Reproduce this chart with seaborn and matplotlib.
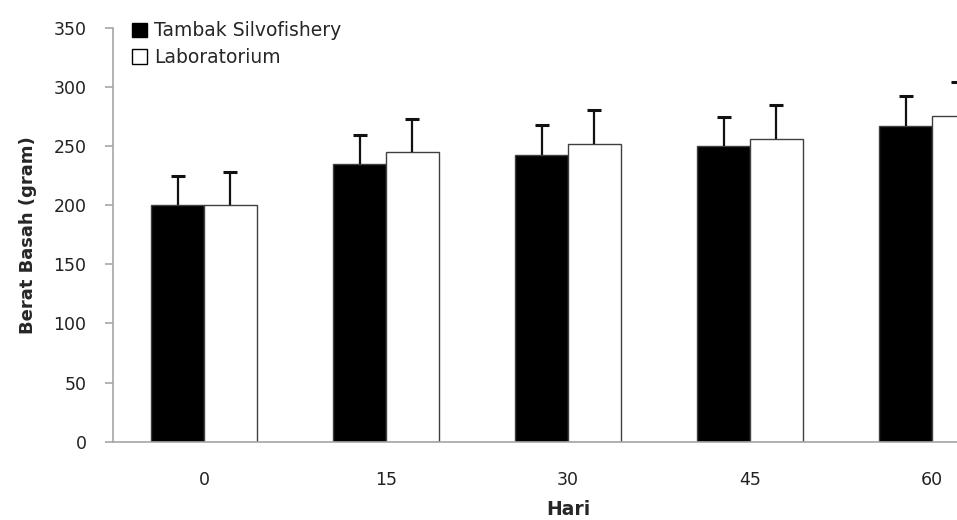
import numpy as np
import pandas as pd
import matplotlib
matplotlib.use("Agg")
import matplotlib.pyplot as plt
from matplotlib.patches import Patch
import seaborn as sns

# data
hari = ["0", "15", "30", "45", "60"]
tambak = [200, 234.5, 242.5, 250, 267]
tambak_err = [25, 25, 25, 24.5, 25]
lab = [200, 245, 251.5, 256, 275]
lab_err = [28, 28, 29, 29, 29]
series = ["Tambak Silvofishery", "Laboratorium"]


def main():
    df = pd.DataFrame({
        "Hari": hari * 2,
        "Berat": tambak + lab,
        "Perlakuan": [series[0]] * len(hari) + [series[1]] * len(hari),
    })

    sns.set_style("white")
    plt.rcParams["font.family"] = ["DejaVu Sans"]

    fig = plt.figure(figsize=(9.57, 5.2), dpi=100)
    # axes run past the right edge, as in the (cropped) original
    ax = fig.add_axes([113 / 957, 1 - 441.7 / 520, 910 / 957, 414 / 520])

    colors = {series[0]: "black", series[1]: "white"}
    sns.barplot(data=df, x="Hari", y="Berat", hue="Perlakuan", hue_order=series,
                palette=colors, width=0.577, edgecolor="#404040", linewidth=1,
                errorbar=None, legend=False, ax=ax)

    # upper-only error bars on top of each bar
    for cont, errs in zip(ax.containers, [tambak_err, lab_err]):
        xs = [p.get_x() + p.get_width() / 2 for p in cont]
        ys = [p.get_height() for p in cont]
        eb = ax.errorbar(xs, ys, yerr=[np.zeros(len(errs)), errs], fmt="none",
                         ecolor="#111111", elinewidth=1.6, capsize=4.7,
                         capthick=2.2, zorder=3)
        eb[1][0].set_visible(False)  # hide the lower caps

    ax.set_xlim(-0.5, 4.5)
    ax.set_ylim(0, 350)
    ax.set_yticks(range(0, 351, 50))

    grey = "#a6a6a6"
    for s in ["top", "right"]:
        ax.spines[s].set_visible(False)
    for s in ["left", "bottom"]:
        ax.spines[s].set_color(grey)
        ax.spines[s].set_linewidth(1.2)

    ax.set_xticks(np.arange(-0.5, 5.0, 1.0), minor=True)
    ax.tick_params(axis="x", which="major", length=0, pad=21, labelsize=12.5,
                   labelcolor="#222222")
    ax.tick_params(axis="x", which="minor", length=6, width=1.2, color=grey,
                   direction="out")
    ax.tick_params(axis="y", length=6, width=1.2, color=grey, direction="out",
                   left=True, pad=13, labelsize=12.5, labelcolor="#222222")

    ax.set_xlabel("Hari", fontsize=13.5, fontweight="bold", labelpad=8)
    ax.set_ylabel("Berat Basah (gram)", fontsize=13, fontweight="bold", labelpad=12)

    handles = [Patch(facecolor=colors[s], edgecolor="black", linewidth=1) for s in series]
    ax.legend(handles, series, loc="upper left", bbox_to_anchor=(0.021, 1.015),
              frameon=False, fontsize=13.5, handlelength=0.8, handleheight=0.8,
              handletextpad=0.35, labelspacing=0.4, borderpad=0, borderaxespad=0)

    fig.savefig("out.png", dpi=100)


if __name__ == "__main__":
    main()
